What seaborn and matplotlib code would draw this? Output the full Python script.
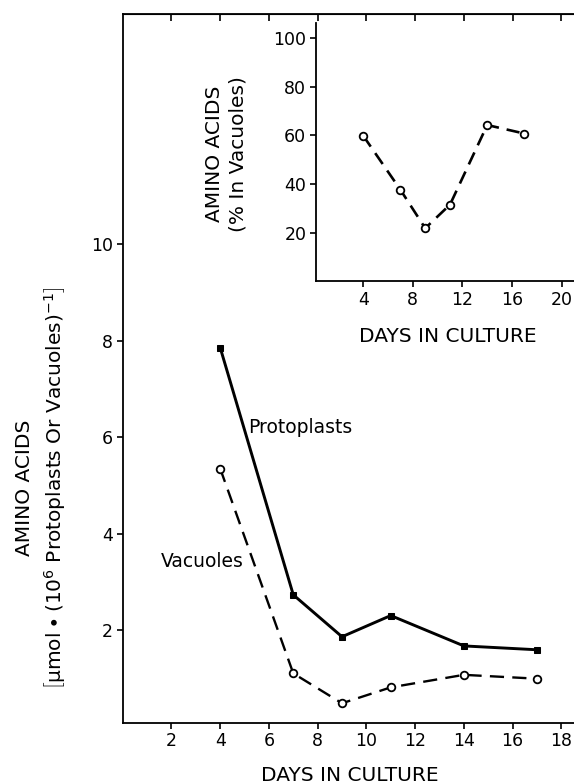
import matplotlib
matplotlib.use("Agg")
import matplotlib.pyplot as plt
import seaborn as sns
import pandas as pd

# ---- data ----
days = [4, 7, 9, 11, 14, 17]
protoplasts = [7.86, 2.73, 1.86, 2.30, 1.67, 1.59]
vacuoles = [5.35, 1.10, 0.48, 0.81, 1.07, 0.99]
inset_days = [4, 7, 9, 11, 14, 17]
pct_in_vacuoles = [59.8, 37.6, 21.8, 31.5, 64.2, 60.7]

main_xticks = [2, 4, 6, 8, 10, 12, 14, 16, 18]
main_yticks = [2, 4, 6, 8, 10]
inset_xticks = [4, 8, 12, 16, 20]
inset_yticks = [20, 40, 60, 80, 100]

sns.set_style("ticks")
plt.rcParams["font.family"] = ["DejaVu Sans"]
plt.rcParams["mathtext.fontset"] = "custom"
plt.rcParams["mathtext.rm"] = "DejaVu Sans"
plt.rcParams["mathtext.it"] = "DejaVu Sans"
plt.rcParams["mathtext.default"] = "regular"
for k in ["text.color", "axes.labelcolor", "xtick.color", "ytick.color", "axes.edgecolor"]:
    plt.rcParams[k] = "black"

LABEL_FS = 14.5
NAME_FS = 13.5
TICK_FS = 12.5

W, H = 574, 784
fig = plt.figure(figsize=(W / 100, H / 100), dpi=100)

def fx(px):
    return px / W

def fy(py):
    return 1 - py / H

# ---- main axes ----
ax = fig.add_axes([fx(122.7), fy(722.7), 1 - fx(122.7), fy(14) - fy(722.7)])
df = pd.DataFrame({"day": days, "Protoplasts": protoplasts, "Vacuoles": vacuoles})
sns.lineplot(data=df, x="day", y="Protoplasts", ax=ax, color="black", lw=2.1,
             marker="s", markersize=5, markerfacecolor="black", markeredgecolor="black")
sns.lineplot(data=df, x="day", y="Vacuoles", ax=ax, color="black", lw=1.7,
             linestyle=(0, (6, 3.5)), marker="o", markersize=5.5,
             markerfacecolor="white", markeredgecolor="black", markeredgewidth=1.3)
ax.set_xlim(0, 18.52)
ax.set_ylim(0.077, 14.78)
ax.set_xticks(main_xticks)
ax.set_yticks(main_yticks)
ax.tick_params(axis="both", direction="out", length=4, width=1.2, labelsize=TICK_FS, pad=3)
for s in ["left", "bottom", "top"]:
    ax.spines[s].set_linewidth(1.3)
ax.spines["right"].set_visible(False)
sec = ax.secondary_xaxis("top")
sec.set_xticks(main_xticks)
sec.tick_params(direction="in", length=5, width=1.2, labeltop=False)
ax.set_xlabel("DAYS IN CULTURE", fontsize=LABEL_FS)
ax.xaxis.set_label_coords(0.5025, -0.075)
ax.xaxis.label.set_va("center")
ax.set_ylabel("")

ax.text(5.15, 6.2, "Protoplasts", fontsize=NAME_FS, ha="left", va="center")
ax.text(1.55, 3.43, "Vacuoles", fontsize=NAME_FS, ha="left", va="center")

# main y label (two lines)
fig.text(fx(25), fy(488), "AMINO ACIDS", rotation=90, fontsize=LABEL_FS,
         ha="center", va="center")
fig.text(fx(55), fy(488),
         r"$\left[\mu mol \bullet (10^{6}\ Protoplasts\ Or\ Vacuoles)^{-1}\right]$",
         rotation=90, fontsize=LABEL_FS, ha="center", va="center")

# ---- inset ----
axi = fig.add_axes([fx(316), fy(281.3), 1 - fx(316), fy(23.3) - fy(281.3)])
di = pd.DataFrame({"day": inset_days, "pct": pct_in_vacuoles})
sns.lineplot(data=di, x="day", y="pct", ax=axi, color="black", lw=1.9,
             linestyle=(0, (5, 3)), marker="o", markersize=5.5,
             markerfacecolor="white", markeredgecolor="black", markeredgewidth=1.3)
axi.set_xlim(0.19, 21.0)
axi.set_ylim(0, 106)
axi.set_xticks(inset_xticks)
axi.set_yticks(inset_yticks)
axi.tick_params(axis="both", direction="out", length=4, width=1.2, labelsize=TICK_FS, pad=3)
axi.spines["top"].set_visible(False)
axi.spines["right"].set_visible(False)
axi.spines["left"].set_linewidth(1.3)
axi.spines["bottom"].set_linewidth(1.3)
axi.set_xlabel("DAYS IN CULTURE", fontsize=LABEL_FS)
axi.xaxis.set_label_coords((447.5 - 316) / (574 - 316), -(336.7 - 281.3) / (281.3 - 23.3))
axi.xaxis.label.set_va("center")
axi.set_ylabel("")
fig.text(fx(215), fy(154), "AMINO ACIDS", rotation=90, fontsize=LABEL_FS, ha="center", va="center")
fig.text(fx(238.5), fy(154), "(% In Vacuoles)", rotation=90, fontsize=LABEL_FS, ha="center", va="center")

fig.savefig("out.png", dpi=100)
